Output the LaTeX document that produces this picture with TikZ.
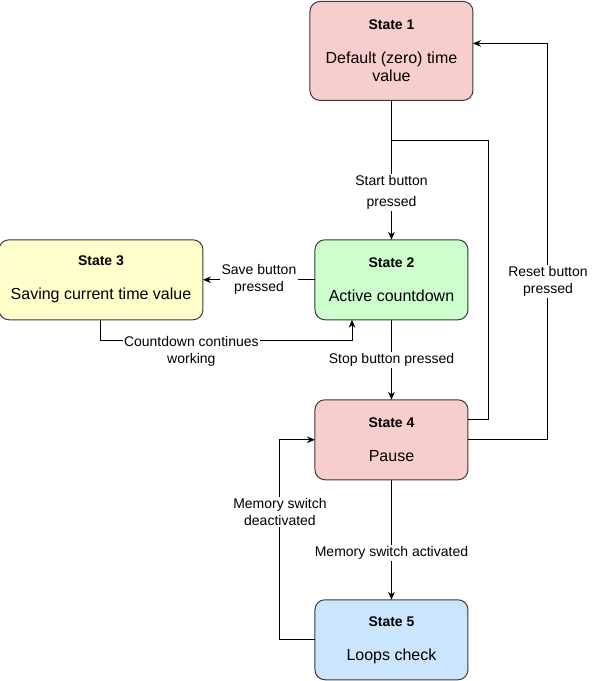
\documentclass[tikz,border=0pt]{standalone}
\usepackage{fontspec}
\setmainfont{Liberation Sans}
\usepackage{tikz}
\usetikzlibrary{positioning}
\usetikzlibrary{calc}
\usetikzlibrary{arrows.meta}

\definecolor{statepink}{HTML}{F8CECC}
\definecolor{stategreen}{HTML}{CCFFCC}
\definecolor{stateyellow}{HTML}{FFFFCC}
\definecolor{stateblue}{HTML}{CCE5FF}
\definecolor{stateline}{HTML}{36393D}

\tikzset{
	statebox/.style={
		draw=stateline,
		line width=0.75pt,
		rounded corners=7.5pt,
		align=center,
		inner sep=0pt,
		outer sep=0pt,
		font=\fontsize{12}{13.5}\selectfont
	},
	conn/.style={line width=0.75pt},
	arr/.style={conn, -{Stealth[length=6pt,width=5pt]}},
	lbl/.style={fill=white, inner sep=1pt, align=center, font=\fontsize{10.5}{12.75}\selectfont}
}

\newcommand{\statetitle}[1]{{\fontsize{10.5}{11}\selectfont\bfseries #1}\\[12pt]}

\begin{document}
\begin{tikzpicture}

\useasboundingbox (0,0) rectangle (447pt,-510.75pt);

\node[
	statebox,
	fill=statepink,
	minimum width=122.25pt,
	minimum height=74.25pt
] (s1) at (293.6pt,-38.2pt) {\statetitle{State 1}Default (zero) time\\value};

\node[
	statebox,
	fill=stategreen,
	minimum width=114.75pt,
	minimum height=60pt,
	below=104.5pt of s1
] (s2) {\statetitle{State 2}Active countdown};

\node[
	statebox,
	fill=stateyellow,
	minimum width=153pt,
	minimum height=60pt,
	left=84pt of s2
] (s3) {\statetitle{State 3}Saving current time value};

\node[
	statebox,
	fill=statepink,
	minimum width=114.75pt,
	minimum height=60pt,
	below=60pt of s2
] (s4) {\statetitle{State 4}Pause};

\node[
	statebox,
	fill=stateblue,
	minimum width=114.75pt,
	minimum height=60pt,
	below=90pt of s4
] (s5) {\statetitle{State 5}Loops check};

% transitions
\draw[arr] (s1) -- (s2)
	node[lbl, pos=0.66]{Start button\\[3pt]pressed};
\draw[conn] (s1.south) -- ++(0,-30pt) -| ([xshift=15.75pt,yshift=15pt]s4.east)
	-- ([yshift=15pt]s4.east);
\draw[arr] (s2) -- (s3)
	node[lbl, midway]{Save button\\pressed};
\draw[arr] (s3.south) -- ++(0,-15.75pt) -| ([xshift=-29.6pt]s2.south)
	node[lbl, pos=0.18, yshift=-7.9pt]{Countdown continues\\working};
\draw[arr] (s2) -- (s4)
	node[lbl, midway]{Stop button pressed};
\draw[arr] (s4.east) -- ++(60pt,0) |- ([yshift=5.6pt]s1.east)
	node[lbl, pos=0.2]{Reset button\\pressed};
\draw[arr] (s4) -- (s5)
	node[lbl, pos=0.61]{Memory switch activated};
\draw[arr] (s5.west) -- ++(-26.25pt,0) |- (s4.west)
	node[lbl, pos=0.32]{Memory switch\\deactivated};

\end{tikzpicture}
\end{document}
